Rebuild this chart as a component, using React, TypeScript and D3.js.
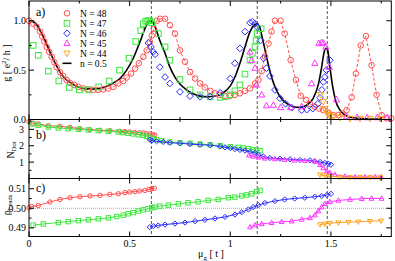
import * as d3 from 'd3';

// ---- data ----
const dashX = [0.608, 1.134, 1.482];

const xMajor = [0, 0.5, 1, 1.5];
const xMajorLabels = ['0', '0.5', '1', '1.5'];
const xMinor = [0.25, 0.75, 1.25, 1.75];

const aMajor = [0, 0.5, 1.0];
const aLabels = ['0.0', '0.5', '1.0'];
const aMinor = [0.25, 0.75];
const bMajor = [1, 2, 3];
const bLabels = ['1', '2', '3'];
const bMinor = [0.5, 1.5, 2.5, 3.5];
const cMajor = [0.49, 0.5, 0.51];
const cLabels = ['0.49', '0.50', '0.51'];
const cMinor = [0.495, 0.505];

const legendNames = ['N = 48', 'N = 47', 'N = 46', 'N = 45', 'N = 44'];

// panel a) conductance
const g48 = [[0,1.0],[0.021,0.97],[0.038,0.94],[0.055,0.89],[0.066,0.84],[0.076,0.79],[0.088,0.735],[0.10,0.685],[0.113,0.635],[0.126,0.58],[0.137,0.53],[0.154,0.48],[0.17,0.44],[0.187,0.40],[0.204,0.37],[0.225,0.35],[0.245,0.33],[0.27,0.315],[0.295,0.305],[0.32,0.30],[0.344,0.30],[0.369,0.305],[0.394,0.315],[0.419,0.33],[0.444,0.365],[0.468,0.39],[0.485,0.425],[0.507,0.465],[0.527,0.515],[0.546,0.57],[0.568,0.635],[0.585,0.70],[0.60,0.785],[0.61,0.85],[0.62,0.92],[0.634,1.0],[0.651,1.02],[0.676,1.02],[0.70,0.955],[0.725,0.87],[0.75,0.70],[0.775,0.585],[0.80,0.48],[0.825,0.415],[0.85,0.365],[0.874,0.325],[0.90,0.29],[0.924,0.265],[0.949,0.25],[0.974,0.24],[0.998,0.24],[1.023,0.25],[1.048,0.265],[1.073,0.29],[1.098,0.315],[1.123,0.365],[1.14,0.40],[1.156,0.49],[1.172,0.64],[1.19,0.77],[1.205,0.89],[1.222,1.0],[1.25,1.0],[1.27,0.87],[1.30,0.60],[1.326,0.40],[1.35,0.24],[1.376,0.20],[1.396,0.157],[1.42,0.13],[1.442,0.11],[1.462,0.095],[1.487,0.07],[1.512,0.045],[1.537,0.045],[1.558,0.06],[1.578,0.095],[1.603,0.225],[1.624,0.465],[1.648,0.75],[1.674,0.845],[1.702,0.55],[1.727,0.25],[1.752,0.045],[1.777,0.012],[1.80,0.012]];
const g47 = [[0.021,0.75],[0.046,0.65],[0.096,0.49],[0.148,0.39],[0.2,0.325],[0.25,0.30],[0.298,0.30],[0.346,0.33],[0.398,0.39],[0.45,0.50],[0.497,0.62],[0.53,0.79],[0.555,0.90],[0.568,0.97],[0.58,0.995],[0.59,1.0],[0.60,1.0],[0.61,0.98],[0.643,0.87],[0.676,0.735],[0.70,0.60],[0.75,0.405],[0.80,0.30],[0.85,0.25],[0.90,0.23],[0.95,0.225],[0.974,0.23],[1.0,0.25],[1.023,0.29],[1.048,0.35],[1.073,0.46],[1.098,0.60],[1.11,0.67],[1.123,0.735],[1.128,0.80],[1.134,0.87],[1.153,0.92]];
const g46 = [[0.593,0.775],[0.606,0.735],[0.617,0.685],[0.626,0.66],[0.65,0.53],[0.676,0.43],[0.70,0.365],[0.75,0.28],[0.80,0.237],[0.85,0.23],[0.90,0.23],[0.95,0.27],[1.0,0.415],[1.023,0.57],[1.048,0.72],[1.073,0.89],[1.098,0.98],[1.11,0.99],[1.123,0.97],[1.134,0.935],[1.15,0.80],[1.165,0.62],[1.18,0.52],[1.197,0.44],[1.222,0.30],[1.247,0.215],[1.275,0.16],[1.305,0.12],[1.355,0.095],[1.38,0.10],[1.41,0.11],[1.435,0.16],[1.446,0.22],[1.455,0.30],[1.462,0.38],[1.47,0.43],[1.478,0.50],[1.495,0.60]];
const g45 = [[1.098,0.685],[1.106,0.60],[1.123,0.52],[1.13,0.35],[1.156,0.25],[1.18,0.14],[1.214,0.146],[1.25,0.123],[1.30,0.123],[1.355,0.13],[1.404,0.365],[1.42,0.57],[1.44,0.77],[1.454,0.78],[1.462,0.775],[1.475,0.735],[1.492,0.53],[1.528,0.20],[1.578,0.03],[1.63,0.02],[1.68,0.02],[1.73,0.02],[1.78,0.02]];
const g44 = [[1.449,0.25],[1.462,0.18],[1.47,0.11],[1.48,0.07],[1.487,0.05],[1.495,0.04],[1.512,0.03],[1.545,0.02],[1.595,0.01],[1.645,0.01],[1.695,0.01],[1.745,0.01]];
const gHalf = [[0,1.0],[0.03,0.98],[0.055,0.90],[0.08,0.80],[0.104,0.685],[0.13,0.57],[0.154,0.48],[0.179,0.415],[0.212,0.365],[0.245,0.33],[0.287,0.31],[0.328,0.308],[0.37,0.325],[0.41,0.36],[0.452,0.415],[0.485,0.50],[0.518,0.62],[0.551,0.785],[0.576,0.92],[0.596,0.995],[0.608,1.0],[0.626,0.94],[0.65,0.80],[0.676,0.67],[0.70,0.53],[0.725,0.43],[0.75,0.36],[0.783,0.30],[0.816,0.26],[0.85,0.237],[0.89,0.23],[0.932,0.24],[0.965,0.27],[1.0,0.34],[1.023,0.43],[1.048,0.57],[1.073,0.735],[1.098,0.89],[1.118,0.955],[1.131,0.97],[1.144,0.945],[1.16,0.82],[1.18,0.635],[1.20,0.465],[1.222,0.33],[1.247,0.23],[1.28,0.163],[1.313,0.13],[1.346,0.123],[1.38,0.146],[1.412,0.215],[1.437,0.35],[1.454,0.53],[1.465,0.67],[1.475,0.72],[1.484,0.70],[1.495,0.53],[1.509,0.33],[1.525,0.18],[1.545,0.095],[1.57,0.045],[1.603,0.02],[1.65,0.01],[1.75,0.005]];

// panel b) N_Dot
const n48 = [[0,3.47],[0.02,3.37],[0.046,3.33],[0.096,3.22],[0.154,3.18],[0.204,3.12],[0.253,3.04],[0.303,2.98],[0.353,2.94],[0.402,2.92],[0.452,2.88],[0.477,2.86],[0.50,2.84],[0.525,2.81],[0.55,2.79],[0.568,2.78],[0.585,2.73],[0.60,2.72],[0.615,2.67],[0.625,2.65]];
const n47 = [[0.02,3.33],[0.046,3.25],[0.096,3.14],[0.146,3.08],[0.195,3.04],[0.245,3.0],[0.295,2.96],[0.344,2.92],[0.394,2.88],[0.444,2.84],[0.468,2.80],[0.493,2.76],[0.518,2.72],[0.543,2.67],[0.568,2.64],[0.585,2.57],[0.60,2.51],[0.618,2.43],[0.634,2.37],[0.66,2.31],[0.70,2.23],[0.75,2.18],[0.80,2.15],[0.85,2.10],[0.90,2.06],[0.95,2.0],[1.0,1.94],[1.04,1.90],[1.065,1.86],[1.09,1.82],[1.114,1.76],[1.13,1.72],[1.148,1.70]];
const n46 = [[0.60,2.37],[0.61,2.31],[0.634,2.27],[0.667,2.23],[0.70,2.18],[0.75,2.15],[0.80,2.10],[0.85,2.06],[0.90,2.03],[0.95,1.96],[0.974,1.90],[1.0,1.86],[1.023,1.80],[1.048,1.74],[1.073,1.70],[1.098,1.62],[1.123,1.56],[1.14,1.45],[1.164,1.35],[1.197,1.25],[1.247,1.21],[1.297,1.17],[1.346,1.13],[1.396,1.11],[1.42,1.05],[1.446,1.01],[1.47,0.95],[1.487,0.90],[1.50,0.84]];
const n45 = [[1.093,1.42],[1.114,1.35],[1.14,1.29],[1.172,1.23],[1.222,1.19],[1.27,1.15],[1.32,1.11],[1.37,1.09],[1.42,1.05],[1.446,0.84],[1.462,0.64],[1.48,0.44],[1.495,0.34],[1.52,0.23],[1.57,0.13],[1.62,0.09],[1.67,0.09],[1.72,0.09],[1.75,0.09]];
const n44 = [[1.446,0.23],[1.47,0.18],[1.495,0.13],[1.545,0.09],[1.595,0.07],[1.645,0.07],[1.695,0.07],[1.745,0.07]];

// panel c) rho_Leads
const r48 = [[0,0.5002],[0.013,0.5009],[0.046,0.5014],[0.104,0.5032],[0.154,0.5045],[0.204,0.5054],[0.253,0.5059],[0.303,0.5063],[0.353,0.5066],[0.402,0.5071],[0.444,0.5074],[0.477,0.508],[0.50,0.5083],[0.527,0.5085],[0.55,0.5088],[0.576,0.5091],[0.596,0.5096],[0.61,0.5100],[0.623,0.5102]];
const r47 = [[0.021,0.4914],[0.071,0.4920],[0.146,0.4927],[0.195,0.4932],[0.245,0.4937],[0.295,0.4941],[0.344,0.4946],[0.394,0.4951],[0.436,0.4958],[0.468,0.4965],[0.493,0.4972],[0.518,0.4978],[0.543,0.4986],[0.568,0.4992],[0.59,0.4997],[0.61,0.5003],[0.626,0.5006],[0.65,0.5011],[0.692,0.5016],[0.742,0.5023],[0.79,0.5028],[0.84,0.5033],[0.89,0.504],[0.94,0.5045],[0.99,0.5054],[1.023,0.5057],[1.057,0.5063],[1.081,0.5068],[1.106,0.5074],[1.131,0.5085],[1.148,0.5091]];
const r46 = [[0.60,0.4904],[0.618,0.4909],[0.642,0.4912],[0.676,0.4917],[0.725,0.4922],[0.775,0.4927],[0.825,0.4934],[0.874,0.4941],[0.924,0.4948],[0.974,0.4956],[1.023,0.4968],[1.057,0.498],[1.09,0.4994],[1.114,0.5006],[1.14,0.5016],[1.172,0.5027],[1.222,0.5037],[1.27,0.5045],[1.32,0.505],[1.37,0.5054],[1.42,0.5059],[1.454,0.5063],[1.48,0.5068],[1.50,0.5074]];
const r45 = [[1.098,0.4904],[1.123,0.4914],[1.156,0.492],[1.205,0.4926],[1.255,0.4931],[1.305,0.4934],[1.355,0.4943],[1.396,0.4951],[1.42,0.4965],[1.437,0.4986],[1.454,0.5006],[1.47,0.5023],[1.495,0.5033],[1.537,0.504],[1.595,0.5045],[1.653,0.5049],[1.702,0.505],[1.752,0.505]];
const r44 = [[1.446,0.4917],[1.47,0.492],[1.495,0.4924],[1.537,0.4927],[1.587,0.4929],[1.636,0.4931],[1.694,0.4934],[1.749,0.4936]];

const colors = ['#ff4d4d', '#3ee63e', '#2b2bff', '#ff33ff', '#ffa31a'];
const shapes = ['circle', 'square', 'diamond', 'up', 'down'];

const W = 395;
const H = 261;
const x = d3.scaleLinear().domain([0, 1.8]).range([29, 391.3]);
const ya = d3.scaleLinear().domain([0, 1.2]).range([119.5, 1]);
const yb = d3.scaleLinear().domain([0, 3.6]).range([178.5, 119.5]);
const yc = d3.scaleLinear().domain([0.4856, 0.5152]).range([236.5, 178.5]);

const font = '"Liberation Serif", "DejaVu Serif", serif';

function Marker({ shape, cx, cy, s, color }) {
  const common = { fill: 'none', stroke: color, strokeWidth: 1 };
  if (shape === 'circle') return <circle cx={cx} cy={cy} r={s} {...common} />;
  if (shape === 'square') return <rect x={cx - s} y={cy - s} width={2 * s} height={2 * s} {...common} />;
  if (shape === 'diamond')
    return <path d={`M${cx},${cy - s * 1.2}L${cx + s * 1.2},${cy}L${cx},${cy + s * 1.2}L${cx - s * 1.2},${cy}Z`} {...common} />;
  if (shape === 'up')
    return <path d={`M${cx},${cy - s * 1.2}L${cx + s * 1.1},${cy + s * 0.8}L${cx - s * 1.1},${cy + s * 0.8}Z`} {...common} />;
  return <path d={`M${cx},${cy + s * 1.2}L${cx + s * 1.1},${cy - s * 0.8}L${cx - s * 1.1},${cy - s * 0.8}Z`} {...common} />;
}

function Series({ data, y, i, s, line, dash }) {
  const gen = d3.line().x(d => x(d[0])).y(d => y(d[1]));
  return (
    <g>
      {line && <path d={gen(data)} fill="none" stroke={colors[i]} strokeWidth={1} strokeDasharray={dash} />}
      {data.map((d, k) => (
        <Marker key={k} shape={shapes[i]} cx={x(d[0])} cy={y(d[1])} s={s} color={colors[i]} />
      ))}
    </g>
  );
}

function Frame({ y, major, labels, minor, labelX }) {
  const [y0, y1] = y.range();
  const x0 = x.range()[0];
  const x1 = x.range()[1];
  return (
    <g>
      {xMajor.map(v => (
        <g key={'xm' + v}>
          <line x1={x(v)} x2={x(v)} y1={y0} y2={y0 - 5} stroke="#000" />
          <line x1={x(v)} x2={x(v)} y1={y1} y2={y1 + 5} stroke="#000" />
        </g>
      ))}
      {xMinor.map(v => (
        <g key={'xn' + v}>
          <line x1={x(v)} x2={x(v)} y1={y0} y2={y0 - 2.5} stroke="#000" />
          <line x1={x(v)} x2={x(v)} y1={y1} y2={y1 + 2.5} stroke="#000" />
        </g>
      ))}
      {major.map((v, k) => (
        <g key={'ym' + v}>
          <line x1={x0} x2={x0 + 5} y1={y(v)} y2={y(v)} stroke="#000" />
          <line x1={x1} x2={x1 - 5} y1={y(v)} y2={y(v)} stroke="#000" />
          <text x={labelX} y={y(v) + 3.5} textAnchor="end" fontSize={10}>{labels[k]}</text>
        </g>
      ))}
      {minor.map(v => (
        <g key={'yn' + v}>
          <line x1={x0} x2={x0 + 2.5} y1={y(v)} y2={y(v)} stroke="#000" />
          <line x1={x1} x2={x1 - 2.5} y1={y(v)} y2={y(v)} stroke="#000" />
        </g>
      ))}
      <rect x={x0} y={y1} width={x1 - x0} height={y0 - y1} fill="none" stroke="#000" strokeWidth={1} />
    </g>
  );
}

export default function App() {
  const aSets = [g48, g47, g46, g45, g44];
  const bSets = [n48, n47, n46, n45, n44];
  const cSets = [r48, r47, r46, r45, r44];
  const halfLine = d3.line().x(d => x(d[0])).y(d => ya(d[1])).curve(d3.curveMonotoneX);
  return (
    <svg width={W} height={H} style={{ position: 'absolute', left: 0, top: 0, background: '#fff' }} fontFamily={font}>
      <rect width={W} height={H} fill="#fff" />
      {/* dashed guides */}
      {dashX.map(v => (
        <line key={v} x1={x(v)} x2={x(v)} y1={1} y2={236.5} stroke="#555" strokeDasharray="3,2" strokeWidth={1} />
      ))}
      <line x1={x(0)} x2={x(1.8)} y1={yc(0.5)} y2={yc(0.5)} stroke="#aaa" strokeDasharray="1,1" />

      {/* panel a */}
      <path d={halfLine(gHalf)} fill="none" stroke="#000" strokeWidth={1.6} />
      {aSets.map((d, i) => (
        <Series key={i} data={d} y={ya} i={i} s={2.8} line={i === 0} dash="3,2" />
      ))}

      {/* panel b */}
      {bSets.map((d, i) => (
        <Series key={i} data={d} y={yb} i={i} s={2.2} line={true} />
      ))}

      {/* panel c */}
      {cSets.map((d, i) => (
        <Series key={i} data={d} y={yc} i={i} s={2.2} line={true} />
      ))}

      <Frame y={ya} major={aMajor} labels={aLabels} minor={aMinor} labelX={26} />
      <Frame y={yb} major={bMajor} labels={bLabels} minor={bMinor} labelX={24} />
      <Frame y={yc} major={cMajor} labels={cLabels} minor={cMinor} labelX={26} />

      {/* x labels */}
      {xMajor.map((v, k) => (
        <text key={v} x={x(v)} y={247} textAnchor="middle" fontSize={10}>{xMajorLabels[k]}</text>
      ))}
      <text x={211} y={257} textAnchor="middle" fontSize={10}>
        μ<tspan fontSize={7} dy={2.5}>g</tspan><tspan dy={-2.5}> [ t ]</tspan>
      </text>

      {/* y titles */}
      <text transform="translate(10,63) rotate(-90)" textAnchor="middle" fontSize={10}>
        g [ e<tspan fontSize={7} dy={-4}>2</tspan><tspan dy={4}>/ h ]</tspan>
      </text>
      <text transform="translate(14,150) rotate(-90)" textAnchor="middle" fontSize={10}>
        N<tspan fontSize={6.5} dy={2}>Dot</tspan>
      </text>
      <text transform="translate(10,205) rotate(-90)" textAnchor="middle" fontSize={10}>
        ρ<tspan fontSize={6.5} dy={2}>Leads</tspan>
      </text>

      {/* panel labels */}
      <text x={36} y={16} fontSize={12}>a)</text>
      <text x={36} y={139} fontSize={12}>b)</text>
      <text x={36} y={192} fontSize={12}>c)</text>

      {/* legend */}
      {legendNames.map((n, i) => (
        <g key={n}>
          <Marker shape={shapes[i]} cx={67} cy={13.3 + i * 10} s={2.8} color={colors[i]} />
          <text x={80} y={16.8 + i * 10} fontSize={9.5}>{n}</text>
        </g>
      ))}
      <line x1={62.5} x2={71.5} y1={63.3} y2={63.3} stroke="#000" strokeWidth={1.6} />
      <text x={80} y={66.8} fontSize={9.5}>n = 0.5</text>
    </svg>
  );
}
